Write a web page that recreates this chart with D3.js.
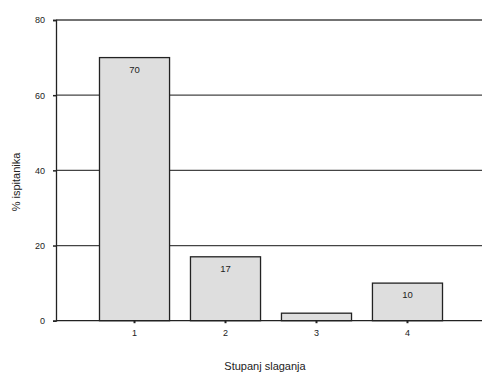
<!DOCTYPE html>
<html><head><meta charset="utf-8">
<script src="https://cdn.jsdelivr.net/npm/d3@7"></script>
<style>body{margin:0;background:#fff}svg{display:block;font-family:Arial,"Liberation Sans",sans-serif}</style>
</head><body><svg id="c" width="482" height="373"></svg>
<script>
const categories = ["1","2","3","4"];
const values = [70, 17, 2, 10];
const labels = ["70","17","","10"];
const yTicks = [0,20,40,60,80];

const svg = d3.select("#c");
const L = 56, T = 20, B = 320.7, W = 482;
const x = d3.scaleBand().domain(categories).range([L, 486]).paddingInner(0.23).paddingOuter(0.478);
const y = d3.scaleLinear().domain([0,80]).range([B, T]);

// gridlines
svg.append("g").selectAll("line").data(yTicks.filter(d=>d>0)).join("line")
  .attr("x1", L).attr("x2", W).attr("y1", d=>y(d)).attr("y2", d=>y(d))
  .attr("stroke", "#444").attr("stroke-width", 1.3);

// bars
svg.append("g").selectAll("rect").data(values).join("rect")
  .attr("x", (d,i)=>x(categories[i])).attr("width", x.bandwidth())
  .attr("y", d=>y(d)).attr("height", d=>B - y(d))
  .attr("fill", "#dedede").attr("stroke", "#222").attr("stroke-width", 1.3);

// value labels
svg.append("g").selectAll("text").data(values).join("text")
  .attr("x", (d,i)=>x(categories[i]) + x.bandwidth()/2).attr("y", d=>y(d)+15)
  .attr("text-anchor", "middle").attr("font-size", 9.5).attr("fill", "#222")
  .text((d,i)=>labels[i]);

// y axis
const ya = svg.append("g").attr("transform", `translate(${L},0)`)
  .call(d3.axisLeft(y).tickValues(yTicks).tickSize(3).tickPadding(8));
ya.select(".domain").attr("stroke", "#222").attr("stroke-width", 1.3);
ya.selectAll(".tick line").attr("stroke", "#222").attr("stroke-width", 1.5);
ya.selectAll("text").attr("font-size", 9).attr("fill", "#222").attr("font-family", "Arial, Liberation Sans, sans-serif");

// x axis
const xa = svg.append("g").attr("transform", `translate(0,${B})`)
  .call(d3.axisBottom(x).tickSize(2.5).tickPadding(6));
xa.select(".domain").attr("d", `M${L},0H${W}`).attr("stroke", "#222").attr("stroke-width", 1.3);
xa.selectAll(".tick line").attr("stroke", "#222").attr("stroke-width", 2);
xa.selectAll("text").attr("font-size", 9).attr("fill", "#222").attr("font-family", "Arial, Liberation Sans, sans-serif");

// titles
svg.append("text").attr("x", 265).attr("y", 370).attr("text-anchor", "middle")
  .attr("font-size", 11).attr("fill", "#222").text("Stupanj slaganja");
svg.append("text").attr("transform", "translate(20,182) rotate(-90)").attr("text-anchor", "middle")
  .attr("font-size", 11).attr("fill", "#222").text("% ispitanika");
</script></body></html>
